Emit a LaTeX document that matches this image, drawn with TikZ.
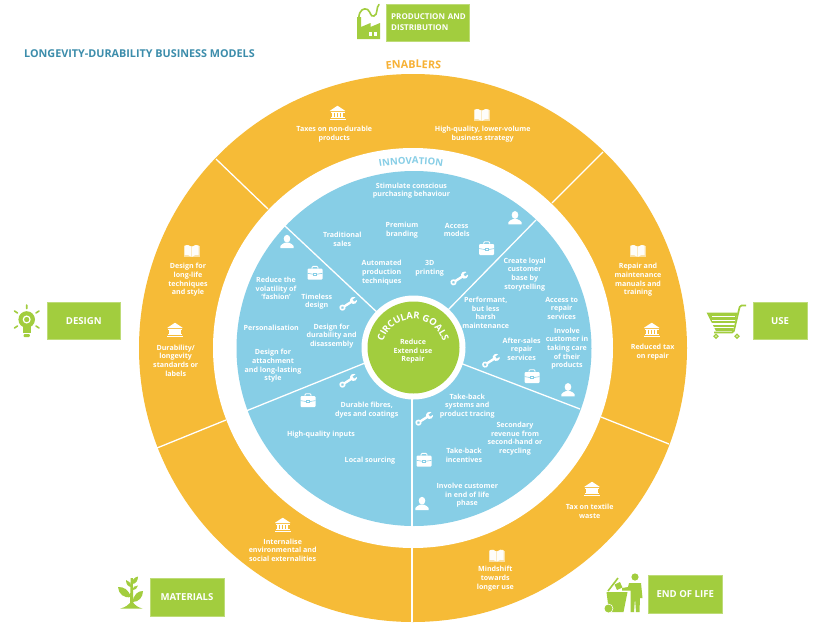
\documentclass[tikz,border=0pt]{standalone}
\usepackage{fontspec}
\setmainfont{Open Sans}
\usetikzlibrary{decorations.text}
\definecolor{ringorange}{HTML}{F6BB37}
\definecolor{skyblue}{HTML}{87CEE6}
\definecolor{leaf}{HTML}{A2CD3E}
\definecolor{titleblue}{HTML}{3C8DAB}
\definecolor{labelorange}{HTML}{F7B135}
\definecolor{labelblue}{HTML}{87CEE6}
\tikzset{
  lbl/.style={text=white,align=center,inner sep=0pt,yshift=-.7pt,font=\fontsize{7.1}{8.65}\selectfont\bfseries},
  sep/.style={draw=white,line width=1.3pt},
  tag/.style={fill=leaf,draw=leaf!70!white,line width=.5pt,text=white,inner sep=0pt,anchor=north west,font=\fontsize{9.6}{11}\selectfont\bfseries},
  ico/.style={fill=white,draw=none},
  gico/.style={fill=leaf,draw=none}
}
\newcommand\T[4]{\node[lbl] (#1) at (#2,#3) {#4};}
\newcommand\bankicon[2]{\begin{scope}[shift={(#1,#2)}]
  \fill[ico,rounded corners=.4pt] (-8,-2) -- (0,-7.3) -- (8,-2) -- cycle;
  \fill[ico] (-7,-1.4) rectangle (7,-.6);
  \foreach \q in {-5.6,-2.6,.4,3.4}{\fill[ico] (\q,-.6) rectangle (\q+2.2,4);}
  \fill[ico] (-7,4) rectangle (7,5.2);
  \fill[ico] (-8,5.6) rectangle (8,7.2);
\end{scope}}
\newcommand\bookicon[2]{\begin{scope}[shift={(#1,#2)}]
  \fill[white,opacity=.55] (-7.8,-5) rectangle (7.8,6);
  \fill[ico,opacity=.95] (-.4,-4.2) .. controls (-2,-6.3) and (-5,-6.4) .. (-7,-5.6) -- (-7,4.2) .. controls (-5,3.6) and (-2,3.8) .. (-.4,5.8) -- cycle;
  \fill[ico,opacity=.95] (.4,-4.2) .. controls (2,-6.3) and (5,-6.4) .. (7,-5.6) -- (7,4.2) .. controls (5,3.6) and (2,3.8) .. (.4,5.8) -- cycle;
\end{scope}}
\newcommand\personicon[2]{\begin{scope}[shift={(#1,#2)}]
  \fill[ico] (0,-3) ellipse[x radius=3.3pt,y radius=3.9pt];
  \fill[ico] (-6.6,6.4) -- (-6.6,4.2) .. controls (-6.4,2.6) and (-3.5,2.2) .. (-2,1) -- (2,1) .. controls (3.5,2.2) and (6.4,2.6) .. (6.6,4.2) -- (6.6,6.4) -- cycle;
\end{scope}}
\newcommand\caseicon[2]{\begin{scope}[shift={(#1,#2)}]
  \draw[white,line width=.9pt,rounded corners=1pt] (-3,-3.5) -- (-3,-6.3) -- (3,-6.3) -- (3,-3.5);
  \fill[ico,rounded corners=1pt] (-7.5,-4) rectangle (7.5,7);
  \draw[skyblue,line width=.6pt] (-7.5,.6) -- (-1.5,1.6) (1.5,1.6) -- (7.5,.6);
  \draw[skyblue,line width=.5pt] (-1.3,.6) rectangle (1.3,2.6);
\end{scope}}
\newcommand\wrenchicon[2]{\begin{scope}[shift={(#1,#2)},rotate=33]
  \fill[ico] (-4.8,-1.2) rectangle (5,1.2);
  \fill[ico] (-6.6,0) circle[radius=3.1pt];
  \fill[skyblue] (-6.6,0) circle[radius=1.5pt];
  \fill[ico] (6.6,0) circle[radius=3.6pt];
  \fill[skyblue] (6.4,-1.3) -- (10.6,-1.3) -- (10.6,1.3) -- (6.4,1.3) -- cycle;
\end{scope}}
\begin{document}
\begin{tikzpicture}[x=1pt,y=-1pt]
\useasboundingbox (0,0) rectangle (828,624);
\fill[white] (0,0) rectangle (828,624);

\coordinate (c) at (413,348);
\fill[ringorange] (c) circle[radius=274pt];
\fill[white] (c) circle[radius=200pt];
\fill[skyblue] (414,348.5) circle[radius=177.5pt];

% outer separators
\coordinate (o1a) at (216,159); \coordinate (o1b) at (268,209);
\coordinate (o2a) at (603,152); \coordinate (o2b) at (552,203);
\coordinate (o3a) at (669,444); \coordinate (o3b) at (601,417);
\coordinate (o4a) at (157,448); \coordinate (o4b) at (226,420);
\coordinate (o5a) at (412,622); \coordinate (o5b) at (412,548);
\draw[sep] (o1a) -- (o1b);
\draw[sep] (o2a) -- (o2b);
\draw[sep] (o3a) -- (o3b);
\draw[sep] (o4a) -- (o4b);
\draw[sep] (o5a) -- (o5b);
% inner separators
\coordinate (i1a) at (285,226); \coordinate (i1b) at (380,315);
\coordinate (i2a) at (536,220); \coordinate (i2b) at (446,312);
\coordinate (i3a) at (246,411); \coordinate (i3b) at (365,363);
\coordinate (i4a) at (580,409); \coordinate (i4b) at (460,363);
\coordinate (i5a) at (412,526); \coordinate (i5b) at (412,397);
\draw[sep] (i1a) -- (i1b);
\draw[sep] (i2a) -- (i2b);
\draw[sep] (i3a) -- (i3b);
\draw[sep] (i4a) -- (i4b);
\draw[sep] (i5a) -- (i5b);
% centre
\fill[white] (413.5,347.5) circle[radius=52pt];
\fill[leaf] (413.5,347.5) circle[radius=46pt];

% title and ring names
\node[anchor=west,inner sep=0pt,text=titleblue,font=\fontsize{10.8}{13}\selectfont\bfseries] (title) at (24,53.3) {LONGEVITY-DURABILITY BUSINESS MODELS};
\begin{scope}[y=1pt]
  \path[decorate,decoration={text along path,text align=center,
    text={|\fontsize{10.8}{12}\selectfont\bfseries\color{labelorange}|ENABLERS}}]
    (413.5,-348) ++(98:280pt) arc[start angle=98,end angle=82,radius=280pt];
  \path[decorate,decoration={text along path,text align=center,
    text={|\fontsize{9.6}{12}\selectfont\bfseries\color{labelblue}|INNOVATION}}]
    (411,-348) ++(105:184pt) arc[start angle=105,end angle=75,radius=184pt];
  \path[decorate,decoration={text along path,text align=center,
    text={|\fontsize{9.4}{12}\selectfont\bfseries\color{white}|CIRCULAR GOALS}}]
    (413,-350) ++(175:31pt) arc[start angle=175,end angle=5,radius=31pt];
\end{scope}

% outer labels
\T{t1}{334.3}{133.7}{Taxes on non-durable\\products}
\T{t2}{482.7}{133.7}{High-quality, lower-volume\\business strategy}
\T{t3}{188}{279.3}{Design for\\long-life\\techniques\\and style}
\T{t4}{175.7}{359.7}{Durability/\\longevity\\standards or\\labels}
\T{t5}{282.7}{549.3}{Internalise\\environmental and\\social externalities}
\T{t6}{638}{279.3}{Repair and\\maintenance\\manuals and\\training}
\T{t7}{652.7}{351.3}{Reduced tax\\on repair}
\T{t8}{589.7}{510.7}{Tax on textile\\waste}
\T{t9}{495.3}{578}{Mindshift\\towards\\longer use}
% inner labels
\T{a1}{411.5}{190}{Stimulate conscious\\purchasing behaviour}
\T{a2}{342.3}{238.7}{Traditional\\sales}
\T{a3}{402}{229.3}{Premium\\branding}
\T{a4}{456.7}{229.3}{Access\\models}
\T{a5}{381.7}{272}{Automated\\production\\techniques}
\T{a6}{429.7}{267.7}{3D\\printing}
\T{b1}{276}{287.7}{Reduce the\\volatility of\\‘fashion’}
\T{b2}{316.7}{301}{Timeless\\design}
\T{b3}{271.3}{326.7}{Personalisation}
\T{b4}{331.7}{335.3}{Design for\\durability and\\disassembly}
\T{b5}{273}{365.3}{Design for\\attachment\\and long-lasting\\style}
\T{c1}{366.7}{409.3}{Durable fibres,\\dyes and coatings}
\T{c2}{321}{434}{High-quality inputs}
\T{c3}{370}{459.7}{Local sourcing}
\T{d1}{524.7}{273.7}{Create loyal\\customer\\base by\\storytelling}
\T{d2}{485.7}{312}{Performant,\\but less\\harsh\\maintenance}
\T{d3}{561.7}{307.7}{Access to\\repair\\services}
\T{d4}{567}{348}{Involve\\customer in\\taking care\\of their\\products}
\T{d5}{521.7}{348.3}{After-sales\\repair\\services}
\T{e1}{467.3}{405.3}{Take-back\\systems and\\product tracing}
\T{e2}{515}{438}{Secondary\\revenue from\\second-hand or\\recycling}
\T{e3}{464}{454.7}{Take-back\\incentives}
\T{e4}{467.3}{494.7}{Involve customer\\in end of life\\phase}
\T{g1}{413}{350.7}{Reduce\\Extend use\\Repair}

% white icons
\bankicon{337.5}{113}
\bankicon{175}{330}
\bankicon{282.7}{525}
\bankicon{651.7}{330}
\bankicon{592}{489}
\bookicon{481.7}{115}
\bookicon{191.7}{251}
\bookicon{637.7}{251}
\bookicon{496.7}{555.7}
\personicon{515}{218}
\personicon{287}{241.7}
\personicon{568}{390}
\personicon{422}{503.7}
\caseicon{486.7}{248}
\caseicon{315}{272.7}
\caseicon{308}{400}
\caseicon{532}{376}
\caseicon{424}{459.7}
\wrenchicon{459}{278.7}
\wrenchicon{348}{304}
\wrenchicon{348}{381}
\wrenchicon{490.7}{361}
\wrenchicon{424}{419}

% green tags
\node[tag,minimum width=83.3pt,minimum height=37pt,align=left,text width=80pt,font=\fontsize{8}{10.8}\selectfont\bfseries] (p) at (385.7,3.5) {\hspace*{3.6pt}PRODUCTION AND\\\hspace*{3.6pt}DISTRIBUTION};
\node[tag,minimum width=73pt,minimum height=37pt,align=center] (dn) at (47,302) {DESIGN};
\node[tag,minimum width=53.7pt,minimum height=37pt,align=center] (us) at (753,302) {USE};
\node[tag,minimum width=73.5pt,minimum height=37.4pt,align=center] (ma) at (150,578.3) {MATERIALS};
\node[tag,minimum width=73.4pt,minimum height=37.4pt,align=center] (en) at (648.3,575.3) {END OF LIFE};

% factory
\fill[gico] (357,39) -- (357,17) -- (361,17) -- (361,27) -- (370.5,23) -- (370.5,27) -- (380,23) -- (380,39) -- cycle;
\fill[white] (369,32) rectangle (372,35.5);
\fill[white] (374,32) rectangle (377,35.5);
\draw[leaf,line width=1.6pt,line cap=round] (358.8,18) .. controls (359,10) and (364,7.5) .. (367.5,9.5) .. controls (371,12) and (370,17) .. (374,16) .. controls (378,15) and (376,7) .. (379,4.5);

% bulb
\fill[gico] (26.7,319.5) circle[radius=8.3pt];
\fill[gico] (22.5,325) -- (30.9,325) -- (30.9,333) -- (22.5,333) -- cycle;
\fill[white] (22.5,333.2) rectangle (30.9,333.9);
\fill[gico,rounded corners=1pt] (23.5,334) rectangle (29.9,337);
\draw[white,line width=1.2pt] (26.7,319.5) circle[radius=3.4pt];
\draw[leaf,line width=1.6pt,line cap=round]
  (26.7,305) -- (26.7,308.5) (14.5,311) -- (17.5,313) (39,311) -- (36,313)
  (14.5,328) -- (17.5,326) (39,328) -- (36,326);

% cart
\fill[gico] (706.5,312.5) -- (737.5,312.5) -- (733,331) -- (716,331) -- cycle;
\foreach \yy in {316.8,320.4,324,327.6}{\draw[white,line width=1.1pt] (712,\yy) -- (735,\yy);}
\draw[leaf,line width=1.7pt,rounded corners=1.5pt] (746,305.5) -- (740,305.5) -- (733.5,332.5) -- (714,332.5);
\foreach \xx in {716,737}{\draw[leaf,line width=1.3pt,fill=white] (\xx,336.2) circle[radius=1.9pt];}

% plant
\fill[gico] (130.6,578) -- (132.8,578) -- (133.4,604) -- (130,604) -- cycle;
\fill[gico] (120,608.7) .. controls (126,607) and (128,605) .. (130,603) -- (133.4,603) .. controls (135,605) and (137,607) .. (142.7,608.7) -- cycle;
\fill[gico] (131,597) .. controls (128,589) and (124,587) .. (118,587) .. controls (118.5,594) and (124,598.5) .. (131,597) -- cycle;
\fill[gico] (132.5,602) .. controls (134,594) and (138,591) .. (143,591) .. controls (143,597) and (139,602) .. (132.5,602) -- cycle;
\fill[gico] (131.5,587) .. controls (130.5,582.5) and (128.5,580.5) .. (126,580) .. controls (126,584) and (128,587) .. (131.5,587) -- cycle;
\fill[gico] (132,584) .. controls (132,580) and (134,577.5) .. (138,576.5) .. controls (138,580.5) and (136,584) .. (132,584) -- cycle;
\fill[gico] (132,590) .. controls (133,587) and (135,585.5) .. (138,585.5) .. controls (137.5,588) and (135.5,590) .. (132,590) -- cycle;

% bin and person
\fill[gico] (606.5,592) -- (627.5,592) -- (623.5,612) -- (609,612) -- cycle;
\fill[white] (608.5,608.5) circle[radius=4.8pt];
\fill[gico] (608.5,608.5) circle[radius=4pt];
\draw[leaf,line width=1.6pt] (608,591) -- (618,578);
\fill[gico,rotate around={25:(618.5,586)}] (615.5,583) rectangle (621.5,589);
\fill[gico] (635,577) circle[radius=3.6pt];
\fill[gico] (629,583) -- (641,583) -- (642.5,598) -- (640,598) -- (639.5,612) -- (636,612) -- (635,598) -- (634,612) -- (630.5,612) -- (630.5,590.5) -- (622,590.5) -- (622,588) -- (628,587) -- cycle;
\end{tikzpicture}
\end{document}
